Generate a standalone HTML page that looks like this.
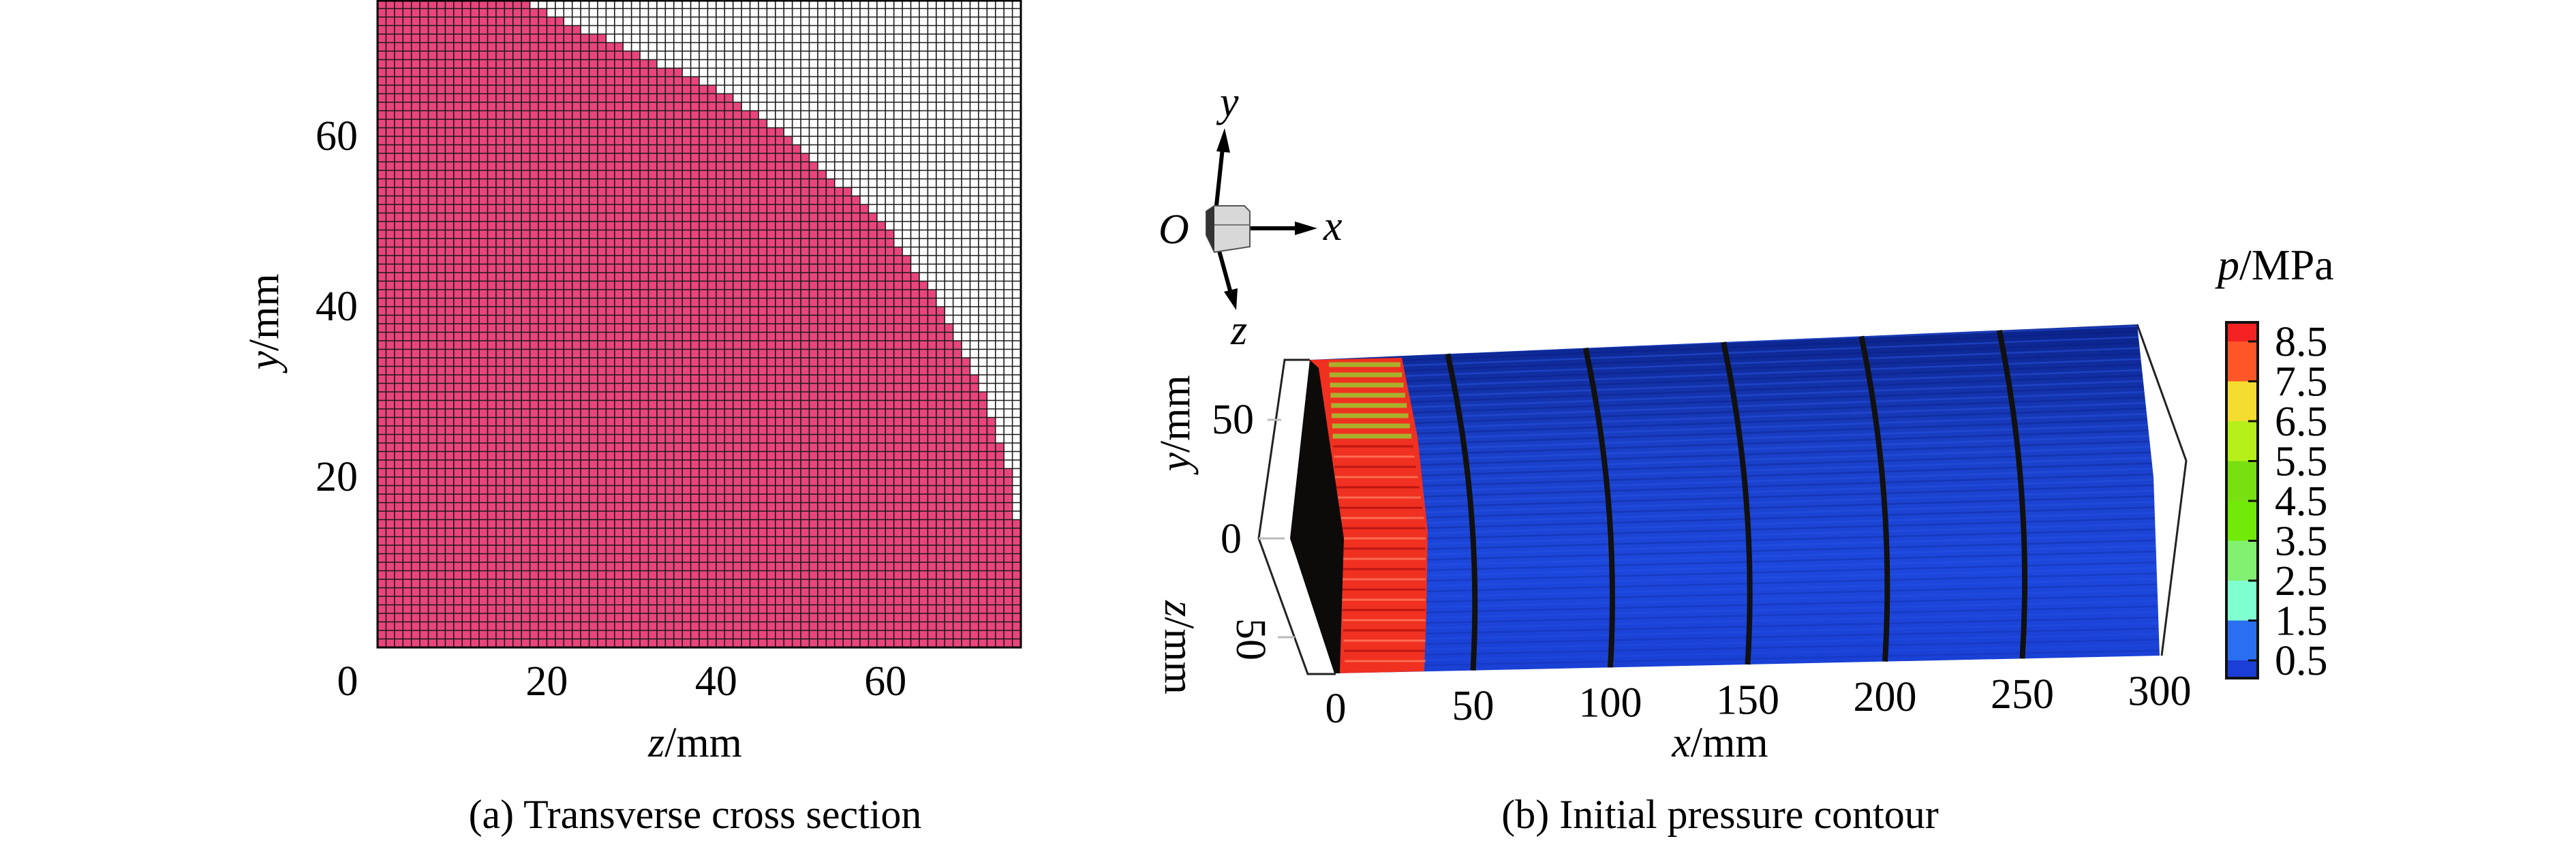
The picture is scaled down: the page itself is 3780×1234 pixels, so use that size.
<!DOCTYPE html>
<html><head><meta charset="utf-8"><style>
html,body{margin:0;padding:0;background:#fff;}
svg, svg text{font-family:"Liberation Serif","Times New Roman",serif;}
svg{display:block;}
</style></head><body>
<svg id="fig" width="3780" height="1234" viewBox="0 0 3780 1234" xmlns="http://www.w3.org/2000/svg" font-family="Liberation Serif, serif">
<defs>
<linearGradient id="blueGrad" x1="0" y1="0" x2="0" y2="1">
<stop offset="0" stop-color="#0b2388"/><stop offset="0.35" stop-color="#1a40c8"/><stop offset="0.7" stop-color="#1d47dc"/><stop offset="1" stop-color="#1a40d4"/>
</linearGradient>
<clipPath id="bodyClip"><polygon points="1922,528 3136,476 3160,700 3169,962 1960,988 1893,790"/></clipPath>
</defs>
<g id="panelA"></g>
<g id="panelB"></g>
</svg>
<script>
// ---------- Panel (a) data ----------
const aXTicks = [0, 20, 40, 60];
const aYTicks = [20, 40, 60];
const aRange = [0, 76];
// boundary of pink region: [y (mm), z extent (mm)]
const aBoundaryY = [0, 10, 20, 30, 40, 50, 60, 65, 70, 74, 76];
const aBoundaryZ = [76.5, 76, 75, 71.5, 66.6, 59.5, 48.3, 41, 30, 21, 17];
// ---------- Panel (b) data ----------
const bXTicks = [0, 50, 100, 150, 200, 250, 300];
const bRings = [50, 100, 150, 200, 250];
const cbLabels = ["8.5", "7.5", "6.5", "5.5", "4.5", "3.5", "2.5", "1.5", "0.5"];
const cbColors = ["#f42222", "#ff5628", "#f4dc30", "#b6f01a", "#78e010", "#72ea08", "#82f070", "#80ffd0", "#2a6ef2", "#1b3ed6"];

const NS = "http://www.w3.org/2000/svg";
const FONT = "Liberation Serif, Times New Roman, serif";
function mk(tag, attrs, parent, text) {
  const e = document.createElementNS(NS, tag);
  for (const k in attrs) e.setAttribute(k, attrs[k]);
  if (tag === "text") e.setAttribute("font-family", FONT);
  if (text !== undefined) e.textContent = text;
  parent.appendChild(e);
  return e;
}
// ---------- Panel (a) ----------
const A = document.getElementById("panelA");
const ax0 = 554, ax1 = 1498, ay0 = 950, ay1 = 0;
const sx = v => ax0 + (v - aRange[0]) / (aRange[1] - aRange[0]) * (ax1 - ax0);
const sy = v => ay0 + (v - aRange[0]) / (aRange[1] - aRange[0]) * (ay1 - ay0);
function boundaryAt(y) {
  for (let i = 0; i < aBoundaryY.length - 1; i++) {
    if (y >= aBoundaryY[i] && y <= aBoundaryY[i + 1]) {
      const t = (y - aBoundaryY[i]) / (aBoundaryY[i + 1] - aBoundaryY[i]);
      return aBoundaryZ[i] + t * (aBoundaryZ[i + 1] - aBoundaryZ[i]);
    }
  }
  return aBoundaryZ[aBoundaryZ.length - 1];
}
let pts = [sx(0) + "," + sy(0)];
for (let y = 0; y <= 76; y += 1) {
  const z = Math.round(boundaryAt(Math.min(y + 0.5, 76)));
  pts.push(sx(z) + "," + sy(y));
  pts.push(sx(z) + "," + sy(Math.min(y + 1, 76)));
}
pts.push(sx(0) + "," + sy(76));
const pink = mk("polygon", {points: pts.join(" "), fill: "#e9457c"}, A);


const grid = mk("g", {stroke: "#1a1a1a", "stroke-width": 1.6}, A);


for (let i = 0; i <= 76; i++) {
  mk("line", {x1: sx(i), y1: ay0, x2: sx(i), y2: ay1}, grid);
  mk("line", {x1: ax0, y1: sy(i), x2: ax1, y2: sy(i)}, grid);
}
const frameA = mk("rect", {x: ax0, y: 1, width: ax1 - ax0, height: ay0 - 1, fill: "none", stroke: "#000", "stroke-width": 3}, A);


aXTicks.forEach(v => {
  const x = v === 0 ? 510 : sx(v);
  const t = mk("text", {x: x, y: 1020, "font-size": 62, "text-anchor": "middle"}, A, String(v));
  
  
});
aYTicks.forEach(v => {
  const t = mk("text", {x: 525, y: sy(v) + 20, "font-size": 62, "text-anchor": "end"}, A, String(v));
  
  
});
const azl = mk("text", {x: 1020, y: 1110, "font-size": 62, "text-anchor": "middle"}, A);


azl.innerHTML = '<tspan font-style="italic">z</tspan>/mm';
const ayl = mk("text", {x: 0, y: 0, "font-size": 62, "text-anchor": "middle", transform: "translate(408,472) rotate(-90)"}, A);


ayl.innerHTML = '<tspan font-style="italic">y</tspan>/mm';
const capA = mk("text", {x: 1020, y: 1215, "font-size": 60, "text-anchor": "middle"}, A, "(a) Transverse cross section");



// ---------- Panel (b) ----------
const B = document.getElementById("panelB");
const topX = s => 1922 + 4.047 * s, topY = s => 528 - 0.173 * s;
const botX = s => 1960 + 4.03 * s, botY = s => 988 - 0.087 * s;
const frameB = mk("polyline", {points: "1922,528 1885,528 1847,790 1919,989 1960,989", fill: "none", stroke: "#222", "stroke-width": 3}, B);


const fTicks = mk("path", {d: "M1847,790 L1885,790 M1880,616 L1860,616 M1900,935 L1875,935", stroke: "#bbb", "stroke-width": 3, fill: "none"}, B);


const frameR = mk("polyline", {points: "3136,476 3208,676 3172,962", fill: "none", stroke: "#222", "stroke-width": 3}, B);


const body = mk("polygon", {points: "1922,528 3136,476 3160,700 3169,962 1960,988 1972,790", fill: "url(#blueGrad)"}, B);


const stripes = mk("g", {"clip-path": "url(#bodyClip)"}, B);


for (let k = 0; k < 60; k++) {
  const f = k / 60;
  const y0 = 528 + f * 460, y1 = 476 + f * 486;
  mk("line", {x1: 1880, y1: y0, x2: 3200, y2: y1, stroke: k % 2 ? "#0a1c80" : "#2f5cf0", "stroke-width": 2.5, opacity: 0.45 * (1 - f * 0.6)}, stripes);
}
const red = mk("polygon", {points: "1922,528 2057,525 2080,640 2095,780 2093,900 2090,985 1960,988 1972,790", fill: "#f03020"}, B);


const redStripes = mk("g", {}, B);


for (let k = 0; k < 30; k++) {
  const y = 535 + k * 15;
  const col = k < 8 ? "#9ad030" : (k % 2 ? "#ff7a60" : "#b01010");
  mk("line", {x1: 1950 + k * 0.8, y1: y, x2: 2055 + Math.min(k, 16) * 2.3, y2: y, stroke: col, "stroke-width": k < 8 ? 7 : 3, opacity: 0.8}, redStripes);
}
const cap = mk("polygon", {points: "1922,528 1893,790 1958,988 1966,988 1972,790 1935,540", fill: "#0d0a0a"}, B);


bRings.forEach(s => {
  const x0 = topX(s), y0 = topY(s), x1 = botX(s), y1 = botY(s);
  const mx = (x0 + x1) / 2 + 16, my = (y0 + y1) / 2;
  const r = mk("path", {d: `M${x0},${y0} Q${mx + 16},${my} ${x1},${y1}`, stroke: "#111", "stroke-width": 8, fill: "none"}, B);
  
  
});
bXTicks.forEach(s => {
  const t = mk("text", {x: botX(s), y: 1060 - s * 0.085, "font-size": 62, "text-anchor": "middle"}, B, String(s));
  
  
});
const bxl = mk("text", {x: 2524, y: 1110, "font-size": 62, "text-anchor": "middle"}, B);


bxl.innerHTML = '<tspan font-style="italic">x</tspan>/mm';
const by50 = mk("text", {x: 1840, y: 636, "font-size": 62, "text-anchor": "end"}, B, "50");


const by0 = mk("text", {x: 1822, y: 811, "font-size": 62, "text-anchor": "end"}, B, "0");


const bz50 = mk("text", {x: 0, y: 0, "font-size": 62, "text-anchor": "middle", transform: "translate(1815,938) rotate(90)"}, B, "50");


const byl = mk("text", {x: 0, y: 0, "font-size": 62, "text-anchor": "middle", transform: "translate(1745,621) rotate(-90)"}, B);


byl.innerHTML = '<tspan font-style="italic">y</tspan>/mm';
const bzl = mk("text", {x: 0, y: 0, "font-size": 62, "text-anchor": "middle", transform: "translate(1710,950) rotate(90)"}, B);


bzl.innerHTML = '<tspan font-style="italic">z</tspan>/mm';
const triad = mk("g", {}, B);


mk("path", {d: "M1783,320 L1795,208", stroke: "#000", "stroke-width": 6}, triad);
mk("polygon", {points: "1797,188 1785,222 1805,224", fill: "#000"}, triad);
mk("path", {d: "M1834,335 L1905,335", stroke: "#000", "stroke-width": 6}, triad);
mk("polygon", {points: "1933,335 1900,325 1900,345", fill: "#000"}, triad);
mk("path", {d: "M1789,368 L1806,430", stroke: "#000", "stroke-width": 6}, triad);
mk("polygon", {points: "1814,455 1796,428 1816,423", fill: "#000"}, triad);
mk("polygon", {points: "1782,302 1826,302 1834,310 1834,362 1782,370 1770,345 1770,310", fill: "#d8d8d8", stroke: "#555", "stroke-width": 2}, triad);
mk("polygon", {points: "1782,302 1770,310 1770,345 1782,370", fill: "#333"}, triad);
mk("line", {x1: 1782, y1: 330, x2: 1834, y2: 330, stroke: "#777", "stroke-width": 2}, triad);
mk("text", {x: 1700, y: 357, "font-size": 62, "font-style": "italic"}, triad, "O");
mk("text", {x: 1942, y: 352, "font-size": 62, "font-style": "italic"}, triad, "x");
mk("text", {x: 1790, y: 170, "font-size": 62, "font-style": "italic"}, triad, "y");
mk("text", {x: 1806, y: 505, "font-size": 62, "font-style": "italic"}, triad, "z");
const cb = mk("g", {}, B);


const cbTop = 473, cbBot = 995, cbX = 3267, cbW = 46;
const step = 58.5, firstTick = 501;
cbColors.forEach((c, i) => {
  const y0 = i === 0 ? cbTop : firstTick + (i - 1) * step;
  const y1 = i === cbColors.length - 1 ? cbBot : firstTick + i * step;
  const r = mk("rect", {x: cbX, y: y0, width: cbW, height: y1 - y0, fill: c}, cb);
  
  
});
mk("rect", {x: cbX, y: cbTop, width: cbW, height: cbBot - cbTop, fill: "none", stroke: "#111", "stroke-width": 4}, cb);
cbLabels.forEach((l, i) => {
  const y = firstTick + i * step;
  mk("line", {x1: cbX + cbW - 14, y1: y, x2: cbX + cbW, y2: y, stroke: "#111", "stroke-width": 3}, cb);
  const t = mk("text", {x: 3338, y: y + 21, "font-size": 62}, cb, l);
  
  
});
const cbt = mk("text", {x: 3254, y: 410, "font-size": 64}, B);


cbt.innerHTML = '<tspan font-style="italic">p</tspan>/MPa';
const capB = mk("text", {x: 2524, y: 1215, "font-size": 60, "text-anchor": "middle"}, B, "(b) Initial pressure contour");


</script>
</body></html>
